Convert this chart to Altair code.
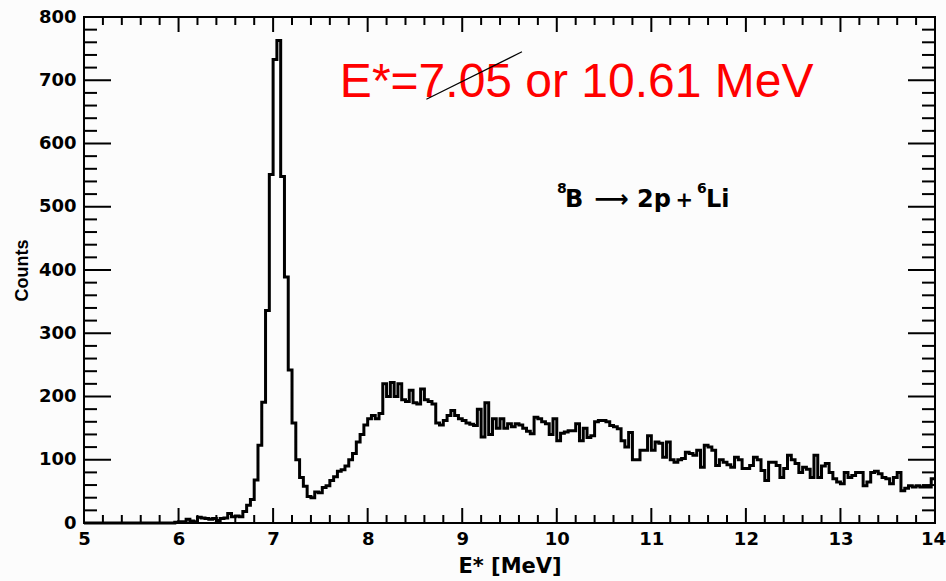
import altair as alt
import pandas as pd

# ---------------- data ----------------
X_MIN, X_MAX = 5.0, 14.0
BIN_WIDTH = 0.04

counts = [
    0, 0, 0, 0, 0, 0, 0, 0, 0, 0,
    0, 0, 0, 0, 0, 0, 0, 0, 0, 0,
    0, 0, 0, 0, 1, 2, 2, 6, 3, 2,
    9, 8, 7, 6, 7, 4, 7, 8, 15, 10,
    11, 10, 18, 28, 37, 68, 123, 191, 336, 551,
    733, 763, 548, 389, 242, 158, 100, 72, 58, 42,
    40, 49, 48, 56, 59, 67, 73, 82, 84, 90,
    100, 110, 128, 140, 155, 165, 170, 165, 173, 220,
    200, 222, 200, 220, 195, 192, 210, 190, 188, 212,
    195, 192, 188, 158, 155, 162, 170, 178, 170, 165,
    162, 158, 156, 154, 180, 136, 190, 140, 165, 150,
    165, 150, 157, 152, 157, 155, 150, 145, 141, 167,
    165, 160, 157, 140, 165, 130, 142, 144, 146, 146,
    157, 130, 150, 135, 138, 160, 162, 162, 160, 154,
    152, 149, 130, 120, 143, 100, 100, 115, 115, 138,
    115, 128, 126, 104, 128, 100, 96, 100, 102, 112,
    110, 107, 115, 88, 123, 120, 115, 91, 100, 96,
    92, 88, 104, 100, 86, 86, 91, 104, 100, 83,
    67, 96, 96, 91, 72, 86, 107, 100, 94, 80,
    88, 85, 72, 107, 72, 90, 94, 80, 70, 65,
    62, 80, 72, 75, 80, 80, 59, 65, 80, 82,
    78, 72, 70, 62, 72, 80, 51, 55, 59, 57,
    59, 57, 57, 57, 70,
]

x_major = [5, 6, 7, 8, 9, 10, 11, 12, 13, 14]
y_major = [0, 100, 200, 300, 400, 500, 600, 700, 800]
x_minor_step = 0.2
y_minor_step = 20

red_label = "E*=7.05 or 10.61 MeV"
# reaction label pieces: text, is superscript
reaction_parts = ["8", "B", "\u27f6", "2p", "+", "6", "Li"]
reaction_super = [True, False, False, False, False, True, False]

# ---------------- tables ----------------
edges = [round(X_MIN + BIN_WIDTH * i, 4) for i in range(len(counts) + 1)]
hist = pd.DataFrame({"E": edges, "c": counts + [counts[-1]]})

x_minor = [round(X_MIN + x_minor_step * i, 3) for i in range(int(round((X_MAX - X_MIN) / x_minor_step)) + 1)]
x_minor = [v for v in x_minor if v not in x_major]
y_minor = [v for v in range(0, 801, y_minor_step) if v not in y_major]

W, H = 851, 506
xs = alt.Scale(domain=[X_MIN, X_MAX], nice=False, zero=False)
ys = alt.Scale(domain=[0, 800], nice=False, zero=False)

BOLD_FONT = "DejaVu Sans"

x_axis = alt.Axis(values=x_major, ticks=False, tickSize=0, domain=False, grid=False,
                  labelFont=BOLD_FONT, labelFontWeight="bold", labelFontSize=18,
                  labelColor="black", labelPadding=7, labelFlush=False, labelOverlap=False,
                  labelOffset={"condition": {"test": "datum.value == 14", "value": -2}, "value": 0},
                  format="d", title="E*  [MeV]", titleFont=BOLD_FONT, titleFontWeight="bold",
                  titleFontSize=21, titleColor="black", titlePadding=7)
y_axis = alt.Axis(values=y_major, ticks=False, tickSize=0, domain=False, grid=False,
                  labelFont=BOLD_FONT, labelFontWeight="bold", labelFontSize=18,
                  labelColor="black", labelPadding=8, labelFlush=False, labelOverlap=False,
                  format="d", title="Counts", titleFont="Liberation Sans", titleFontWeight="bold",
                  titleFontSize=18, titleColor="black", titlePadding=7)


def X(field):
    return alt.X(field, scale=xs, axis=x_axis)


def Y(field):
    return alt.Y(field, scale=ys, axis=y_axis)


line = alt.Chart(hist).mark_line(
    interpolate="step-after", color="black", strokeWidth=3, strokeJoin="miter", strokeCap="butt"
).encode(x=X("E:Q"), y=Y("c:Q"))


def xticks(vals, y0, y1):
    return alt.Chart(pd.DataFrame({"E": vals})).mark_rule(color="black", strokeWidth=2).encode(
        x=X("E:Q"), y=alt.value(y0), y2=alt.value(y1))


def yticks(vals, x0, x1):
    return alt.Chart(pd.DataFrame({"c": vals})).mark_rule(color="black", strokeWidth=2).encode(
        y=Y("c:Q"), x=alt.value(x0), x2=alt.value(x1))


ticks = [
    xticks(x_major, H, H - 15), xticks(x_minor, H, H - 8),
    xticks(x_major, 0, 15), xticks(x_minor, 0, 8),
    yticks(y_major, 0, 27), yticks(y_minor, 0, 13),
    yticks(y_major, W, W - 27), yticks(y_minor, W, W - 13),
]

red_text = alt.Chart(pd.DataFrame({"E": [7.706], "c": [674], "t": [red_label]})).mark_text(
    align="left", baseline="alphabetic", font="Liberation Sans", fontSize=48, color="#ff0000"
).encode(x=X("E:Q"), y=Y("c:Q"), text="t:N")

strike = alt.Chart(pd.DataFrame({"E": [8.621], "c": [670], "E2": [9.632], "c2": [745]})).mark_rule(
    color="black", strokeWidth=1.2
).encode(x=X("E:Q"), y=Y("c:Q"), x2="E2:Q", y2="c2:Q")

# annotation placement (data coordinates)
react_E = [10.002, 10.087, 10.40, 10.848, 11.255, 11.483, 11.578]
react_c = [522 if s else 500 for s in reaction_super]
react_size = [14 if s else 24 for s in reaction_super]
react_size[4] = 21
react_df = pd.DataFrame({"E": react_E, "c": react_c, "t": reaction_parts, "s": react_size})

reaction = alt.Chart(react_df).mark_text(
    align="left", baseline="alphabetic", font=BOLD_FONT, fontWeight="bold", color="black"
).encode(x=X("E:Q"), y=Y("c:Q"), text="t:N", size=alt.Size("s:Q", scale=None, legend=None))

chart = alt.layer(line, *ticks, red_text, strike, reaction).properties(
    width=W, height=H,
    padding={"left": 84, "top": 17, "right": 11, "bottom": 58},
    autosize=alt.AutoSizeParams(type="none"),
    background="#fcfcfc",
).configure_view(stroke="black", strokeWidth=2, fill="#fcfcfc")

chart.save("out.html", embed_options={"renderer": "svg", "actions": False})
